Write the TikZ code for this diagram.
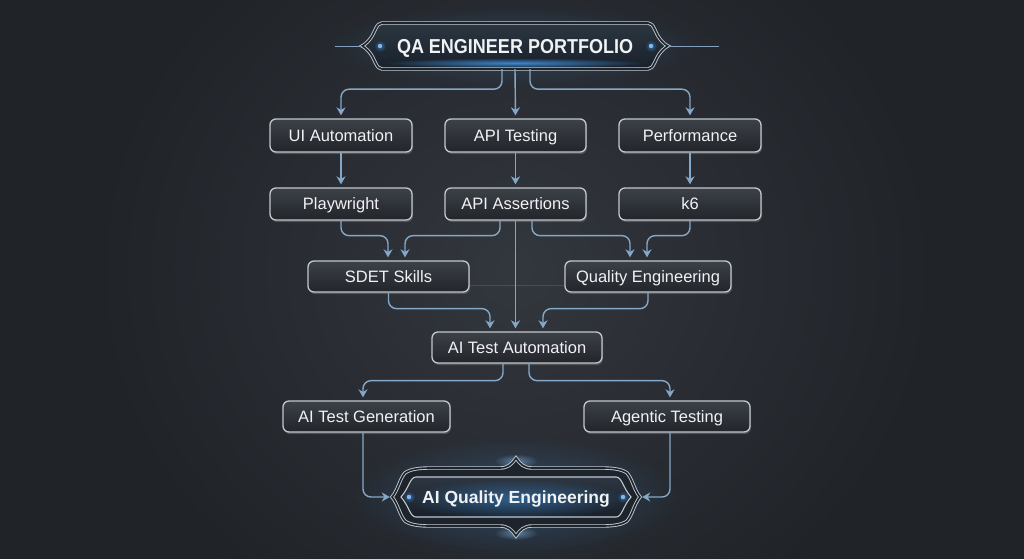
\documentclass[tikz,border=0pt]{standalone}
\usepackage{fontspec}
\usepackage{graphicx}
\setmainfont{Liberation Sans}
\usetikzlibrary{arrows.meta,calc,fadings,shadows}
\definecolor{bgA}{HTML}{202328}
\definecolor{bgB}{HTML}{33373E}
\definecolor{boxborder}{HTML}{C2C8CF}
\definecolor{boxT}{HTML}{3C4148}
\definecolor{boxB}{HTML}{22252A}
\definecolor{txt}{HTML}{F0F2F4}
\definecolor{arrowc}{HTML}{85A8C9}
\definecolor{glowblue}{HTML}{3F91E0}
\definecolor{dotblue}{HTML}{7FB8EC}
\definecolor{banT}{HTML}{2C3641}
\definecolor{banB}{HTML}{18212B}
\definecolor{framefill}{HTML}{1E242B}
\tikzfading[name=glowfade, inner color=transparent!0, outer color=transparent!100]
\begin{document}
\begin{tikzpicture}[x=1pt,y=-1pt,
  box/.style={draw=boxborder, line width=1.3pt, rounded corners=6pt,
    top color=boxT, bottom color=boxB, text=txt,
    font=\fontsize{16.5}{20}\selectfont, inner sep=0pt, minimum height=32pt,
    text height=11.8pt, text depth=0pt,
    drop shadow={opacity=0.45, shadow xshift=1pt, shadow yshift=-2pt}},
  conn/.style={draw=arrowc, line width=1.4pt, rounded corners=8pt,
    -{Stealth[length=8pt,width=9pt,inset=2.5pt]}, shorten >=3pt},
  faint/.style={draw=arrowc, line width=1pt, opacity=0.22},
  deco/.style={draw=boxborder, line width=0.9pt, double=framefill, double distance=1.6pt},
  bluedot/.style={fill=dotblue},
]
\useasboundingbox (0,0) rectangle (1024,559);
% background
\fill[bgA] (0,0) rectangle (1024,559);
\fill[bgB, path fading=glowfade] (515,270) ellipse (430 and 400);

% ---------- title banner ----------
\fill[glowblue, opacity=0.25, path fading=glowfade] (515,46) ellipse (190 and 40);
\path[top color=banT, bottom color=banB]
  (382,23) -- (648,23) .. controls (654,23) and (655,33) .. (660,39)
  .. controls (663,43) and (666,45) .. (668,46)
  .. controls (666,47) and (663,49) .. (660,53)
  .. controls (655,59) and (654,69) .. (648,69) -- (382,69)
  .. controls (376,69) and (375,59) .. (370,53)
  .. controls (367,49) and (364,47) .. (362,46)
  .. controls (364,45) and (367,43) .. (370,39)
  .. controls (375,33) and (376,23) .. (382,23) -- cycle;
\fill[glowblue, opacity=0.9, path fading=glowfade] (515,63) ellipse (130 and 5);
\draw[deco]
  (382,23) -- (648,23) .. controls (654,23) and (655,33) .. (660,39)
  .. controls (663,43) and (666,45) .. (668,46)
  .. controls (666,47) and (663,49) .. (660,53)
  .. controls (655,59) and (654,69) .. (648,69) -- (382,69)
  .. controls (376,69) and (375,59) .. (370,53)
  .. controls (367,49) and (364,47) .. (362,46)
  .. controls (364,45) and (367,43) .. (370,39)
  .. controls (375,33) and (376,23) .. (382,23) -- cycle;
\fill[glowblue, opacity=0.6, path fading=glowfade] (380,46) circle (6);
\fill[glowblue, opacity=0.6, path fading=glowfade] (651,46) circle (6);
\fill[bluedot] (380,46) circle (2.2);
\fill[bluedot] (651,46) circle (2.2);
\node[font=\bfseries\fontsize{18}{22}\selectfont, text=txt, inner sep=0pt,
  text height=14.4pt, text depth=0pt,
  minimum width=306pt, minimum height=46pt] (title) at (515,46) {\scalebox{1}[1.12]{QA ENGINEER PORTFOLIO}};
\draw[draw=arrowc!80!gray, line width=0.9pt] (title.west) -- ++(-27,0);
\draw[draw=arrowc!80!gray, line width=0.9pt] (title.east) -- ++(51,0);

% ---------- boxes ----------
\node[box, minimum width=142pt, minimum height=33pt] (ui)   at (341,135.5) {UI Automation};
\node[box, minimum width=141pt, minimum height=33pt] (api)  at (515.5,135.5) {API Testing};
\node[box, minimum width=142pt, minimum height=33pt] (perf) at (690,135.5) {Performance};
\node[box, minimum width=142pt] (pw)   at (341,204) {Playwright};
\node[box, minimum width=141pt] (aa)   at (515.5,204) {API Assertions};
\node[box, minimum width=142pt] (k6)   at (690,204) {k6};
\node[box, minimum width=161pt, minimum height=31pt] (sdet) at (388.5,276.5) {SDET Skills};
\node[box, minimum width=166pt, minimum height=31pt] (qe)   at (648,276.5) {Quality Engineering};
\node[box, minimum width=170pt, minimum height=31pt] (ata)  at (517,347.5) {AI Test Automation};
\node[box, minimum width=167pt, minimum height=31pt] (atg)  at (366.5,416.5) {AI Test Generation};
\node[box, minimum width=166pt, minimum height=31pt] (agt)  at (667,416.5) {Agentic Testing};

% ---------- final banner ----------
\fill[glowblue, opacity=0.3, path fading=glowfade] (516,497) ellipse (165 and 60);
\fill[glowblue!60!white, opacity=0.55, path fading=glowfade] (516,461) ellipse (22 and 7);
\fill[glowblue!60!white, opacity=0.55, path fading=glowfade] (516,533) ellipse (22 and 7);
\path[fill=framefill]
  (392,497) .. controls (398,490) and (400,478) .. (405,473)
  .. controls (410,469) and (420,468) .. (430,468) -- (500,468)
  .. controls (508,468) and (512,464) .. (516,458)
  .. controls (520,464) and (524,468) .. (532,468) -- (602,468)
  .. controls (612,468) and (622,469) .. (627,473)
  .. controls (632,478) and (634,490) .. (640,497)
  .. controls (634,504) and (632,516) .. (627,521)
  .. controls (622,525) and (612,526) .. (602,526) -- (532,526)
  .. controls (524,526) and (520,530) .. (516,536)
  .. controls (512,530) and (508,526) .. (500,526) -- (430,526)
  .. controls (420,526) and (410,525) .. (405,521)
  .. controls (400,516) and (398,504) .. (392,497) -- cycle;
\draw[deco]
  (392,497) .. controls (398,490) and (400,478) .. (405,473)
  .. controls (410,469) and (420,468) .. (430,468) -- (500,468)
  .. controls (508,468) and (512,464) .. (516,458)
  .. controls (520,464) and (524,468) .. (532,468) -- (602,468)
  .. controls (612,468) and (622,469) .. (627,473)
  .. controls (632,478) and (634,490) .. (640,497)
  .. controls (634,504) and (632,516) .. (627,521)
  .. controls (622,525) and (612,526) .. (602,526) -- (532,526)
  .. controls (524,526) and (520,530) .. (516,536)
  .. controls (512,530) and (508,526) .. (500,526) -- (430,526)
  .. controls (420,526) and (410,525) .. (405,521)
  .. controls (400,516) and (398,504) .. (392,497) -- cycle;
\path[top color=banT, bottom color=banB]
  (416,477) -- (616,477) .. controls (622,477) and (623,488) .. (631,497)
  .. controls (623,506) and (622,517) .. (616,517) -- (416,517)
  .. controls (410,517) and (409,506) .. (401,497)
  .. controls (409,488) and (410,477) .. (416,477) -- cycle;
\fill[glowblue, opacity=0.5, path fading=glowfade] (516,499) ellipse (110 and 20);
\draw[draw=boxborder, line width=1.1pt]
  (416,477) -- (616,477) .. controls (622,477) and (623,488) .. (631,497)
  .. controls (623,506) and (622,517) .. (616,517) -- (416,517)
  .. controls (410,517) and (409,506) .. (401,497)
  .. controls (409,488) and (410,477) .. (416,477) -- cycle;
\fill[glowblue, opacity=0.6, path fading=glowfade] (409,497) circle (6);
\fill[glowblue, opacity=0.6, path fading=glowfade] (623,497) circle (6);
\fill[bluedot] (409,497) circle (2.2);
\fill[bluedot] (623,497) circle (2.2);
\node[font=\bfseries\fontsize{17.5}{21}\selectfont, text=txt, inner sep=0pt,
  text height=12.5pt, text depth=0pt,
  minimum width=248pt, minimum height=40pt] (fin) at (516,497) {AI Quality Engineering};

% ---------- connectors ----------
\draw[conn] ([xshift=-13pt]title.south) -- ++(0,20) -| (ui.north);
\draw[conn] (title.south) -- (api.north);
\draw[conn] ([xshift=15pt]title.south) -- ++(0,20) -| (perf.north);

\draw[conn] (ui.south) -- (pw.north);
\draw[conn] (api.south) -- (aa.north);
\draw[conn] (perf.south) -- (k6.north);

\draw[conn] (pw.south) -- ++(0,15) -| ([xshift=-0.5pt]sdet.north);
\draw[conn] ([xshift=-15.5pt]aa.south) -- ++(0,15) -| ([xshift=16.5pt]sdet.north);
\draw[conn] ([xshift=16.5pt]aa.south) -- ++(0,15) -| ([xshift=-18pt]qe.north);
\draw[conn] (k6.south) -- ++(0,15) -| ([xshift=-1pt]qe.north);
\draw[conn] (aa.south) -- (aa.south |- ata.north);
\draw[faint] ([yshift=-8.5pt]sdet.east) -- ([yshift=-8.5pt]qe.west);

\draw[conn] (sdet.south) -- ++(0,16) -| ([xshift=-27pt]ata.north);
\draw[conn] (qe.south) -- ++(0,16) -| ([xshift=26pt]ata.north);

\draw[conn] ([xshift=-14pt]ata.south) -- ++(0,17) -| ([xshift=-3.5pt]atg.north);
\draw[conn] ([xshift=12pt]ata.south) -- ++(0,17) -| ([xshift=3pt]agt.north);

\draw[conn, shorten >=2pt] ([xshift=-3.5pt]atg.south) |- (fin.west);
\draw[conn, shorten >=2pt] ([xshift=3pt]agt.south) |- (fin.east);
\end{tikzpicture}
\end{document}
